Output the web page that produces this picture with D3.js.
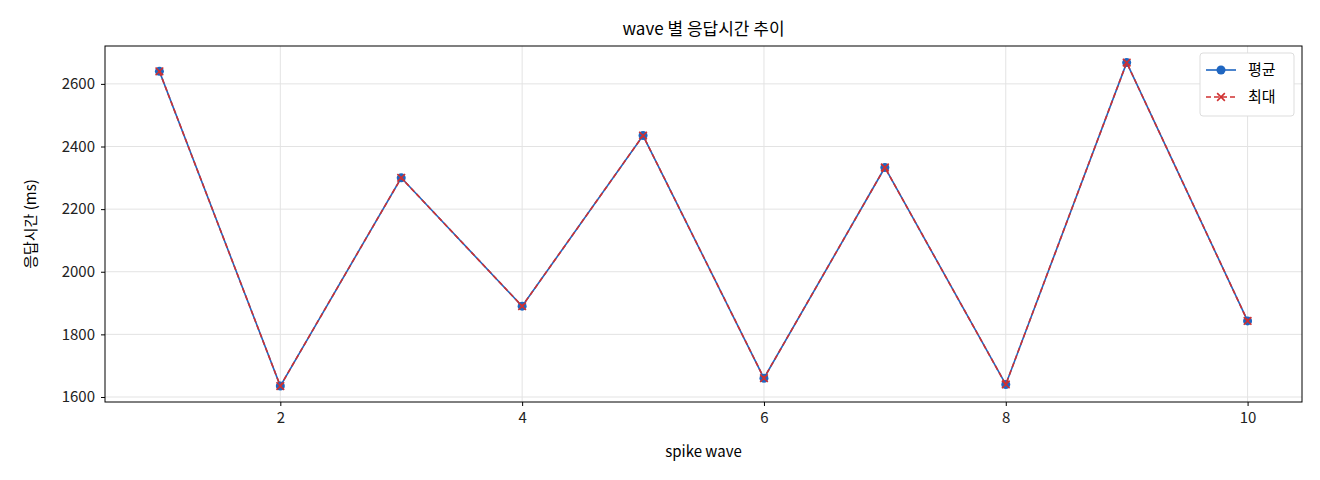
<!DOCTYPE html>
<html><head><meta charset="utf-8">
<script src="https://cdn.jsdelivr.net/npm/d3@7"></script>
<style>body{margin:0;background:#fff}text{font-family:"Noto Sans CJK KR","DejaVu Sans",sans-serif}</style>
</head><body><svg id="c" width="1320" height="480"></svg>
<script>
// 데이터
const waves = [1,2,3,4,5,6,7,8,9,10];
const avgMs = [2640,1635,2300,1890,2435,1660,2333,1640,2668,1843];
const maxMs = [2640,1635,2300,1890,2435,1660,2333,1640,2668,1843];
const xTicks = [2,4,6,8,10];
const yTicks = [1600,1800,2000,2200,2400,2600];

const L=105,R=1302,T=46,B=402;
const svg=d3.select("#c");
const x=d3.scaleLinear().domain([0.55,10.45]).range([L,R]);
const y=d3.scaleLinear().domain([1584,2721]).range([B,T]);

// 그리드
svg.append("g").selectAll("line").data(xTicks).join("line")
  .attr("x1",d=>x(d)).attr("x2",d=>x(d)).attr("y1",T).attr("y2",B)
  .attr("stroke","#e3e3e3");
svg.append("g").selectAll("line").data(yTicks).join("line")
  .attr("y1",d=>y(d)).attr("y2",d=>y(d)).attr("x1",L).attr("x2",R)
  .attr("stroke","#e3e3e3");

const ax=svg.append("g").attr("transform",`translate(0,${B})`)
  .call(d3.axisBottom(x).tickValues(xTicks).tickFormat(d3.format("d")).tickSize(4).tickPadding(6));
const ay=svg.append("g").attr("transform",`translate(${L},0)`)
  .call(d3.axisLeft(y).tickValues(yTicks).tickFormat(d3.format("d")).tickSize(4).tickPadding(6));
[ax,ay].forEach(a=>{a.selectAll("text").attr("font-size",15).attr("fill","#222");a.select(".domain").remove();});

svg.append("rect").attr("x",L).attr("y",T).attr("width",R-L).attr("height",B-T)
  .attr("fill","none").attr("stroke","#000").attr("stroke-width",1);

const line=d3.line().x((d,i)=>x(waves[i])).y(d=>y(d));
svg.append("path").datum(avgMs).attr("d",line).attr("fill","none").attr("stroke","#1f66c1").attr("stroke-width",1.6);
svg.selectAll(".dot").data(avgMs).join("circle").attr("cx",(d,i)=>x(waves[i])).attr("cy",d=>y(d)).attr("r",4.5).attr("fill","#1f66c1");
svg.append("path").datum(maxMs).attr("d",line).attr("fill","none").attr("stroke","#d03030").attr("stroke-width",1.6).attr("stroke-dasharray","5,3");
const cross=d3.symbol().type(d3.symbolX).size(40);
svg.selectAll(".x").data(maxMs).join("path").attr("d",cross)
  .attr("transform",(d,i)=>`translate(${x(waves[i])},${y(d)})`).attr("stroke","#d03030").attr("stroke-width",1.6).attr("fill","none");

svg.append("text").attr("x",(L+R)/2).attr("y",35).attr("text-anchor","middle").attr("font-size",17).text("wave 별 응답시간 추이");
svg.append("text").attr("x",(L+R)/2).attr("y",457).attr("text-anchor","middle").attr("font-size",15).text("spike wave");
svg.append("text").attr("transform",`translate(36,${(T+B)/2}) rotate(-90)`).attr("text-anchor","middle").attr("font-size",15).text("응답시간 (ms)");

// 범례
const lg=svg.append("g").attr("transform","translate(1200,53)");
lg.append("rect").attr("width",94).attr("height",63).attr("rx",3).attr("fill","#fff").attr("stroke","#ddd");
lg.append("line").attr("x1",6).attr("x2",36).attr("y1",17).attr("y2",17).attr("stroke","#1f66c1").attr("stroke-width",1.6);
lg.append("circle").attr("cx",21).attr("cy",17).attr("r",4.5).attr("fill","#1f66c1");
lg.append("line").attr("x1",6).attr("x2",36).attr("y1",44).attr("y2",44).attr("stroke","#d03030").attr("stroke-width",1.6).attr("stroke-dasharray","5,3");
lg.append("path").attr("d",cross).attr("transform","translate(21,44)").attr("stroke","#d03030").attr("stroke-width",1.6);
lg.append("text").attr("x",48).attr("y",22).attr("font-size",15).text("평균");
lg.append("text").attr("x",48).attr("y",49).attr("font-size",15).text("최대");
</script></body></html>
